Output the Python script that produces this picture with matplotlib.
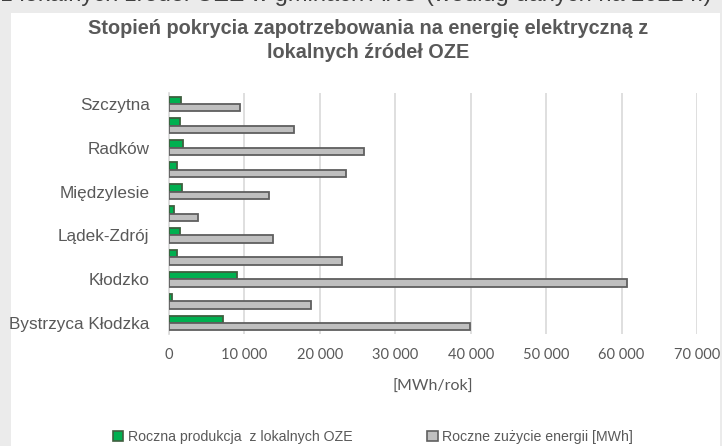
import matplotlib
matplotlib.use("Agg")
import matplotlib.pyplot as plt
from matplotlib.patches import Rectangle, Patch

# data (alphabetical, Excel draws the first category at the bottom)
gminy = ["Bystrzyca Kłodzka", "Duszniki-Zdrój", "Kłodzko", "Kudowa-Zdrój",
         "Lądek-Zdrój", "Lewin Kłodzki", "Międzylesie", "Polanica-Zdrój",
         "Radków", "Stronie Śląskie", "Szczytna"]
produkcja_oze = [7170, 440, 8980, 1060, 1500, 620, 1730, 1060, 1810, 1500, 1590]
zuzycie = [39880, 18850, 60740, 22920, 13760, 3850, 13320, 23400, 25840, 16590, 9470]
x_ticks = [0, 10000, 20000, 30000, 40000, 50000, 60000, 70000]

TXT = "#595959"
W, H = 722, 446
SANS = "Liberation Sans"

fig = plt.figure(figsize=(W / 100, H / 100), dpi=100, facecolor="#ebebeb")
fig.patches.append(Rectangle((11 / W, 0), 709 / W, 1 - 13 / H, transform=fig.transFigure,
                             facecolor="white", edgecolor="none", zorder=-5))

# caption of the surrounding document, cut off at the top
fig.text(1 / W, 1 + 5 / H, "z lokalnych źródeł OZE w gminach AKO (według danych na 2021 r.)",
         ha="left", va="center", fontsize=17, color="#404040", family=SANS)

fig.text(368 / W, 1 - 28 / H, "Stopień pokrycia zapotrzebowania na energię elektryczną z",
         ha="center", va="center", fontsize=14.3, fontweight="bold", color=TXT, family=SANS)
fig.text(368 / W, 1 - 53 / H, "lokalnych źródeł OZE",
         ha="center", va="center", fontsize=14.3, fontweight="bold", color=TXT, family=SANS)

ax = fig.add_axes([169 / W, 1 - 334 / H, 528 / W, 241 / H])
ax.set_facecolor("none")

pos = list(range(len(gminy)))
bh = 0.34
ax.barh([p + bh / 2 for p in pos], produkcja_oze, height=bh, color="#00b050",
        edgecolor="#3f5f3f", linewidth=1.3, zorder=3)
ax.barh([p - bh / 2 for p in pos], zuzycie, height=bh, color="#bfbfbf",
        edgecolor="#5f5f5f", linewidth=1.3, zorder=3)

ax.set_xlim(0, 70000)
ax.set_ylim(-0.5, len(gminy) - 0.5)
ax.set_xticks(x_ticks)
ax.set_xticklabels([f"{v:,}".replace(",", " ") for v in x_ticks],
                   fontsize=10.5, color=TXT, family="Lato")
# only every other label fits, as in the original
ax.set_yticks(pos[::2])
ax.set_yticklabels(gminy[::2], fontsize=12.3, color=TXT, family=SANS)
ax.tick_params(axis="both", length=0)
ax.tick_params(axis="y", pad=14)
ax.tick_params(axis="x", pad=10)
ax.grid(axis="x", color="#d9d9d9", linewidth=1.2, zorder=0)
for s in ["top", "right", "bottom"]:
    ax.spines[s].set_visible(False)
ax.spines["left"].set_color("#d9d9d9")
ax.spines["left"].set_linewidth(1.2)
ax.set_xlabel("[MWh/rok]", fontsize=11.5, color=TXT, family="Lato", labelpad=13)

handles = [Patch(facecolor="#00b050", edgecolor="#3f5f3f", linewidth=1.2),
           Patch(facecolor="#bfbfbf", edgecolor="#5f5f5f", linewidth=1.2)]
fig.legend(handles, ["Roczna produkcja  z lokalnych OZE", "Roczne zużycie energii [MWh]"],
           loc="center", bbox_to_anchor=(373 / W, 1 - 437 / H), ncol=2, frameon=False,
           handlelength=0.75, handleheight=0.75, handletextpad=0.3, columnspacing=5.3,
           prop={"family": SANS, "size": 10.2}, labelcolor=TXT)

fig.savefig("out.png", dpi=100, facecolor=fig.get_facecolor())
